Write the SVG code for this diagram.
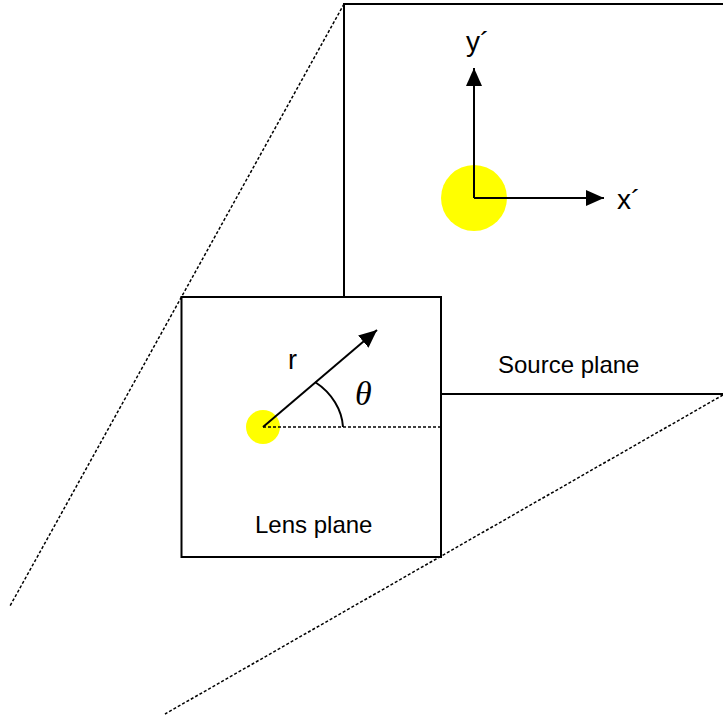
<svg xmlns="http://www.w3.org/2000/svg" width="723" height="719" viewBox="0 0 723 719">
<style>
.frame{fill:#fff;stroke:#000;stroke-width:2}
.dot{fill:none;stroke:#000;stroke-width:1.5;stroke-dasharray:3 2}
.ax{fill:none;stroke:#000;stroke-width:2}
.lbl{font-family:"Liberation Sans",Arial,sans-serif;font-size:24px;fill:#000}
.big{font-size:28px}
.src{fill:#ffff00}
</style>
<defs>
<marker id="ah" markerWidth="18" markerHeight="16" refX="18" refY="8" orient="auto" markerUnits="userSpaceOnUse">
<path d="M0,0 L18,8 L0,16 Z" fill="#000"/>
</marker>
</defs>
<rect width="723" height="719" fill="#fff"/>
<g id="connectors">
<line class="dot" x1="344" y1="4" x2="10" y2="606"/>
<line class="dot" x1="723" y1="395" x2="165" y2="714"/>
</g>
<g id="source-plane">
<rect class="frame" x="344" y="4" width="420" height="390"/>
<circle class="src" cx="474" cy="198" r="33"/>
<line class="ax" x1="474" y1="198" x2="474" y2="68" marker-end="url(#ah)"/>
<line class="ax" x1="474" y1="198" x2="604" y2="198" marker-end="url(#ah)"/>
<text class="lbl big" x="466" y="51">y´</text>
<text class="lbl big" x="617" y="209">x´</text>
<text class="lbl" x="498" y="373">Source plane</text>
</g>
<g id="lens-plane">
<rect class="frame" x="181.5" y="297" width="259.5" height="260"/>
<circle class="src" cx="263" cy="427" r="17"/>
<line class="dot" x1="263" y1="427" x2="441" y2="427" style="stroke-width:1.3"/>
<line class="ax" x1="263" y1="427" x2="377" y2="330" marker-end="url(#ah)"/>
<path class="ax" d="M315,382 C332,393 342,410 343,427"/>
<text class="lbl" x="288" y="369" style="font-size:27px">r</text>
<text x="355" y="405" style="font-family:'Liberation Serif','Times New Roman',serif;font-style:italic;font-size:34px">θ</text>
<text class="lbl" x="255" y="533">Lens plane</text>
</g>
</svg>
